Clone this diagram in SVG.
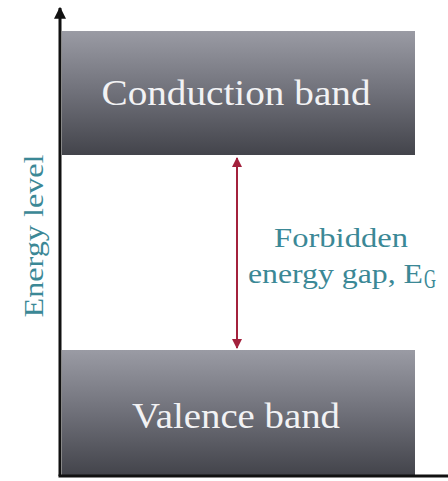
<svg xmlns="http://www.w3.org/2000/svg" width="448" height="481" viewBox="0 0 448 481">
<defs>
<linearGradient id="band" x1="0" y1="0" x2="0" y2="1">
<stop offset="0" stop-color="#9a9ba4"/>
<stop offset="0.5" stop-color="#6f7079"/>
<stop offset="1" stop-color="#43444b"/>
</linearGradient>
<marker id="ah" viewBox="0 0 10 10" refX="9" refY="5" markerWidth="5" markerHeight="5" orient="auto-start-reverse">
<path d="M0,0 L10,5 L0,10 z" fill="#a3213c"/>
</marker>
<marker id="axh" viewBox="0 0 10 10" refX="9" refY="5" markerWidth="4" markerHeight="4" orient="auto">
<path d="M0,0 L10,5 L0,10 z" fill="#111"/>
</marker>
</defs>
<style>
.band{fill:url(#band);}
.bt{font-family:"Liberation Serif","DejaVu Serif",serif;fill:#f2f2f4;font-size:36px;text-anchor:middle;}
.lab{font-family:"Liberation Serif","DejaVu Serif",serif;fill:#3b8896;font-size:27px;}
</style>
<rect width="448" height="481" fill="#ffffff"/>
<g id="conduction">
<rect class="band" x="62" y="31" width="353" height="124"/>
<text class="bt" x="236" y="105" textLength="269" lengthAdjust="spacingAndGlyphs">Conduction band</text>
</g>
<g id="valence">
<rect class="band" x="62" y="350" width="353" height="125"/>
<text class="bt" x="236" y="428" textLength="208" lengthAdjust="spacingAndGlyphs">Valence band</text>
</g>
<g id="connectors">
<line x1="60" y1="476" x2="60" y2="8" stroke="#111" stroke-width="3" marker-end="url(#axh)"/>
<line x1="58.5" y1="476" x2="448" y2="476" stroke="#111" stroke-width="3"/>
<line x1="237" y1="158" x2="237" y2="348" stroke="#a3213c" stroke-width="2" marker-start="url(#ah)" marker-end="url(#ah)"/>
</g>
<g id="axis-label">
<text class="lab" transform="translate(43,236) rotate(-90)" text-anchor="middle" textLength="163" lengthAdjust="spacingAndGlyphs">Energy level</text>
</g>
<g id="gap-label">
<text class="lab" x="274" y="247" textLength="134" lengthAdjust="spacingAndGlyphs">Forbidden</text>
<text class="lab" x="248" y="283" textLength="175" lengthAdjust="spacingAndGlyphs">energy gap, E</text>
<text class="lab" x="424" y="288" font-size="15" textLength="12" lengthAdjust="spacingAndGlyphs">G</text>
</g>
</svg>
